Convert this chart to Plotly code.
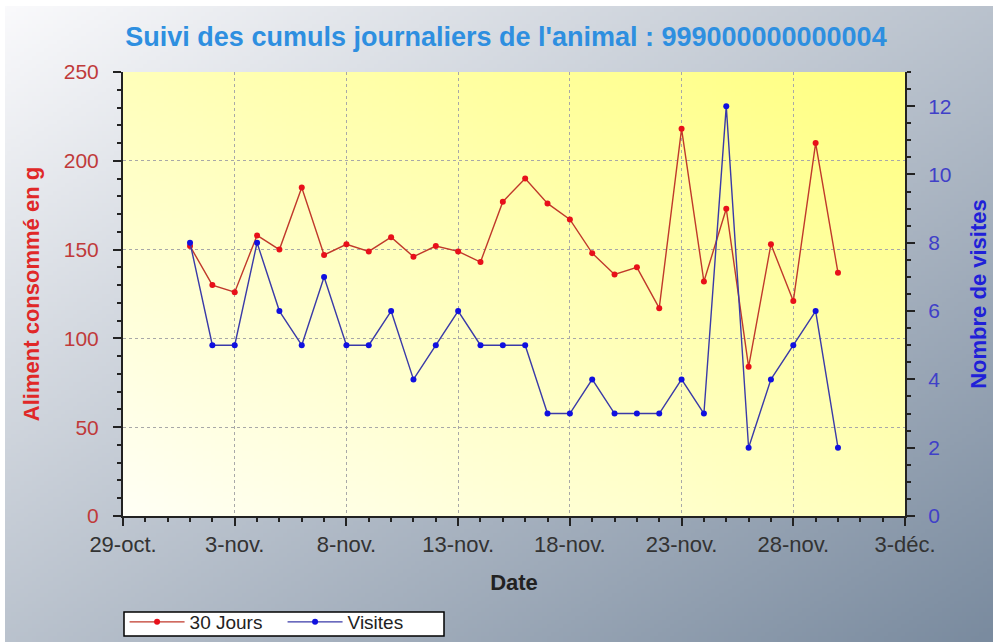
import base64, zlib, struct
import numpy as np
import plotly.graph_objects as go

# ---- data ----
dates = [f"2014-11-{d:02d}" for d in range(1, 31)]
aliment = [152, 130, 126, 158, 150, 185, 147, 153, 149, 157, 146, 152, 149, 143, 177,
           190, 176, 167, 148, 136, 140, 117, 218, 132, 173, 84, 153, 121, 210, 137]
visites = [8, 5, 5, 8, 6, 5, 7, 5, 5, 6, 4, 5, 6, 5, 5,
           5, 3, 3, 4, 3, 3, 3, 4, 3, 12, 2, 4, 5, 6, 2]
tick_dates = ["2014-10-29", "2014-11-03", "2014-11-08", "2014-11-13", "2014-11-18",
              "2014-11-23", "2014-11-28", "2014-12-03"]
tick_labels = ["29-oct.", "3-nov.", "8-nov.", "13-nov.", "18-nov.", "23-nov.", "28-nov.", "3-déc."]
title_text = "Suivi des cumuls journaliers de l'animal : 999000000000004"

# ---- gradient backgrounds as small PNGs ----
def png_uri(arr):
    h, w, _ = arr.shape
    raw = b"".join(b"\x00" + arr[i].astype(np.uint8).tobytes() for i in range(h))
    def chunk(t, d):
        c = struct.pack(">I", len(d)) + t + d
        return c + struct.pack(">I", zlib.crc32(t + d) & 0xffffffff)
    data = b"\x89PNG\r\n\x1a\n" + chunk(b"IHDR", struct.pack(">IIBBBBB", w, h, 8, 2, 0, 0, 0)) \
        + chunk(b"IDAT", zlib.compress(raw, 9)) + chunk(b"IEND", b"")
    return "data:image/png;base64," + base64.b64encode(data).decode()

def diag(w, h, c0, c1, flip_y=False):
    xs = np.linspace(0, 1, w)[None, :]
    ys = np.linspace(0, 1, h)[:, None]
    if flip_y:
        ys = 1 - ys
    t = (xs + ys) / 2
    c0 = np.array(c0, float); c1 = np.array(c1, float)
    return c0 + (c1 - c0) * t[..., None]

outer = png_uri(diag(240, 160, (250, 250, 252), (122, 139, 159)))
inner = png_uri(diag(200, 120, (255, 255, 246), (255, 255, 128), flip_y=True))

W, H = 996, 642
L, R, T, B = 123, 905, 72, 516
pw, ph = R - L, B - T

fig = go.Figure()
fig.add_trace(go.Scatter(x=dates, y=aliment, name="30 Jours", mode="lines+markers",
                         line=dict(color="#C0392B", width=1.4),
                         marker=dict(color="#E8101A", size=6)))
fig.add_trace(go.Scatter(x=dates, y=visites, name="Visites", mode="lines+markers", yaxis="y2",
                         line=dict(color="#3A3AA8", width=1.4),
                         marker=dict(color="#1010E0", size=6)))

fig.update_layout(
    width=W, height=H,
    margin=dict(l=L, r=W - R, t=T, b=H - B, pad=0, autoexpand=False),
    paper_bgcolor="white", plot_bgcolor="rgba(0,0,0,0)",
    font=dict(family="Liberation Sans, Arial, sans-serif", size=16, color="#333333"),
    title=dict(text=f"<b>{title_text}</b>", x=(506 / W), xanchor="center", y=1 - 37 / H, yanchor="middle",
               font=dict(size=27, color="#2E8FE0")),
    images=[
        dict(source=outer, xref="paper", yref="paper", x=(5 - L) / pw, y=(B - 6) / ph,
             sizex=988 / pw, sizey=636 / ph, xanchor="left", yanchor="top", sizing="stretch", layer="below"),
        dict(source=inner, xref="paper", yref="paper", x=0, y=1, sizex=1, sizey=1,
             xanchor="left", yanchor="top", sizing="stretch", layer="below"),
    ],
    shapes=[
        dict(type="rect", xref="paper", yref="paper", layer="above",
             x0=(124 - L) / pw, x1=(444 - L) / pw, y0=(B - 636) / ph, y1=(B - 612) / ph,
             fillcolor="white", line=dict(color="black", width=1.5)),
    ],
    xaxis=dict(type="date", range=["2014-10-29", "2014-12-03"], tickmode="array", automargin=False,
               tickvals=tick_dates, ticktext=tick_labels, ticks="outside", ticklen=8, tickwidth=1.5,
               tickcolor="#222", showline=True, linecolor="#222", linewidth=2,
               showgrid=True, gridcolor="#a8a8a8", griddash="dot", gridwidth=1,
               minor=dict(dtick=86400000, tick0="2014-10-29", ticks="outside", ticklen=4,
                          tickcolor="#222", showgrid=False),
               tickfont=dict(size=22, color="#333333"),
               title=dict(text="<b>Date</b>", font=dict(size=22, color="#222"), standoff=18),
               zeroline=False),
    yaxis=dict(range=[0, 250], dtick=50, ticks="outside", ticklen=8, tickwidth=1.5, tickcolor="#222",
               automargin=False, showline=True, linecolor="#222", linewidth=2, ticklabelstandoff=10,
               showgrid=True, gridcolor="#a8a8a8", griddash="dot", gridwidth=1,
               minor=dict(dtick=10, ticks="outside", ticklen=4, tickcolor="#222", showgrid=False),
               tickfont=dict(size=21, color="#C03A3A"),
               title=dict(text="<b>Aliment consommé en g</b>", font=dict(size=22, color="#E02828"), standoff=18),
               zeroline=False),
    yaxis2=dict(range=[0, 13], dtick=2, overlaying="y", side="right", ticks="outside", ticklen=8,
                automargin=False, tickwidth=1.5, tickcolor="#222", showline=True, linecolor="#222", linewidth=2,
                showgrid=False, ticklabelstandoff=9,
                minor=dict(dtick=0.5, ticks="outside", ticklen=4, tickcolor="#222", showgrid=False),
                tickfont=dict(size=21, color="#4040C8"),
                title=dict(text="<b>Nombre de visites</b>", font=dict(size=22, color="#2020D8"), standoff=20),
                zeroline=False),
    legend=dict(orientation="h", x=0.002, xanchor="left", y=(B - 603) / ph, yanchor="top",
                bgcolor="rgba(0,0,0,0)", borderwidth=0,
                font=dict(size=19, color="#222"), itemwidth=55, entrywidth=88,
                entrywidthmode="pixels", tracegroupgap=0),
    showlegend=True,
)

fig.write_html("out.html", config={"displayModeBar": False},
               post_script="document.body.style.margin='0';")
